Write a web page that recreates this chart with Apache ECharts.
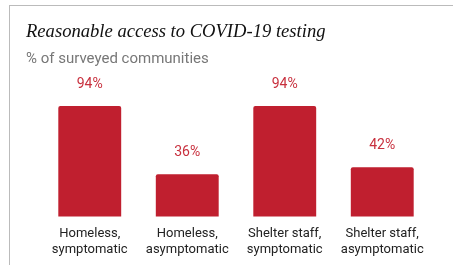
<!DOCTYPE html>
<html>
<head>
<meta charset="utf-8">
<script src="https://cdn.jsdelivr.net/npm/echarts@6/dist/echarts.min.js"></script>
<style>
  html, body { margin: 0; padding: 0; background: #fff; }
  #chart { width: 453px; height: 265px; }
</style>
</head>
<body>
<div id="chart"></div>
<script>
  // data
  const categories = ['Homeless,\nsymptomatic', 'Homeless,\nasymptomatic', 'Shelter staff,\nsymptomatic', 'Shelter staff,\nasymptomatic']
  const shares = [94, 36, 94, 42]

  const red = '#c01f2f'

  const chart = echarts.init(document.getElementById('chart'), null, { renderer: 'canvas' })
  chart.setOption({
    animation: false,
    title: [
      {
        text: 'Reasonable access to COVID-19 testing',
        left: 21,
        top: 18,
        textStyle: {
          fontFamily: 'Liberation Serif',
          fontStyle: 'italic',
          fontWeight: 'normal',
          fontSize: 18.6,
          color: '#111'
        }
      },
      {
        text: '% of surveyed communities',
        left: 21,
        top: 47,
        textStyle: {
          fontFamily: 'Roboto',
          fontWeight: 'normal',
          fontSize: 15,
          color: '#777'
        }
      }
    ],
    graphic: [
      { type: 'line', shape: { x1: 9, y1: 5.5, x2: 453, y2: 5.5 }, style: { stroke: '#bbb', lineWidth: 1 } },
      { type: 'line', shape: { x1: 9.5, y1: 5, x2: 9.5, y2: 265 }, style: { stroke: '#bbb', lineWidth: 1 } }
    ],
    grid: {
      left: 41,
      right: 22,
      top: 99,
      bottom: 48.5
    },
    xAxis: {
      type: 'category',
      data: categories,
      axisLine: { show: false },
      axisTick: { show: false },
      axisLabel: {
        interval: 0,
        margin: 9,
        fontFamily: 'Roboto',
        fontSize: 13,
        lineHeight: 16,
        color: '#222'
      }
    },
    yAxis: {
      type: 'value',
      min: 0,
      max: 100,
      show: false,
      splitLine: { show: false }
    },
    series: [
      {
        type: 'bar',
        data: shares,
        barWidth: '64.5%',
        itemStyle: { color: red, borderRadius: [2, 2, 0, 0] },
        label: {
          show: true,
          position: 'top',
          distance: 15,
          formatter: '{c}%',
          fontFamily: 'Roboto',
          fontSize: 14,
          color: '#c8303e'
        }
      }
    ]
  })
</script>
</body>
</html>
